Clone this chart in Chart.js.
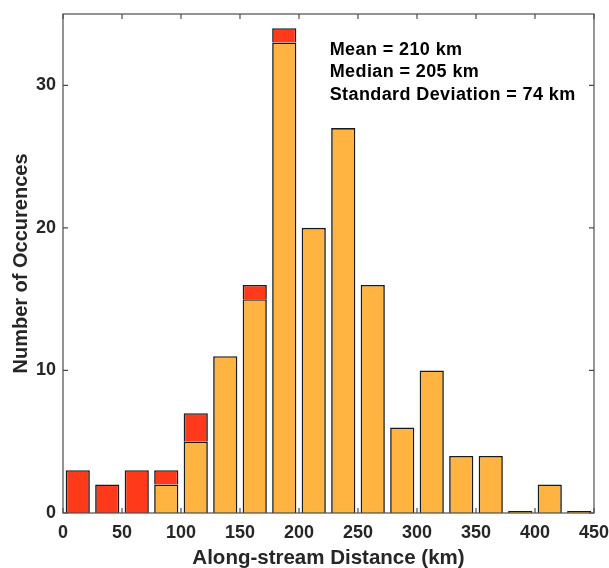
<!DOCTYPE html>
<html lang="en">
<head>
    <meta charset="UTF-8">
    <title>Along-stream Distance Histogram</title>
    <script src="https://cdn.jsdelivr.net/npm/chart.js"></script>
    <style>
        body { margin: 0; background: #fff; }
        #wrap { width: 609px; height: 568px; }
    </style>
</head>
<body>
    <div id="wrap"><canvas id="histChart" width="609" height="568"></canvas></div>
    <script>
        // bin centres (25 km bins)
        const binCentres = [12.5, 37.5, 62.5, 87.5, 112.5, 137.5, 162.5, 187.5, 212.5,
                            237.5, 262.5, 287.5, 312.5, 337.5, 362.5, 387.5, 412.5, 437.5];
        const orangeCounts = [null, null, null, 2, 5, 11, 15, 33, 20, 27, 16, 6, 10, 4, 4, 0, 2, 0];
        const redCounts    = [3, 2, 3, 1, 2, null, 1, 1, null, null, null, null, null, null, null, null, null, null];
        const xTicks = [0, 50, 100, 150, 200, 250, 300, 350, 400, 450];
        const yTicks = [0, 10, 20, 30];
        const statsText = ['Mean = 210 km', 'Median = 205 km', 'Standard Deviation = 74 km'];

        const FONT = '"Liberation Sans", Arial, sans-serif';
        const AXIS_COLOR = '#4d4d4d';

        const toPoints = arr => binCentres.map((x, i) => ({ x: x, y: arr[i] }));

        // box + inward tick marks + stats text
        const boxPlugin = {
            id: 'boxPlugin',
            afterDraw(chart) {
                const { ctx, chartArea: a, scales } = chart;
                ctx.save();
                ctx.strokeStyle = AXIS_COLOR;
                ctx.lineWidth = 1.2;
                ctx.strokeRect(a.left, a.top, a.right - a.left, a.bottom - a.top);
                ctx.beginPath();
                xTicks.forEach(v => {
                    const px = scales.x.getPixelForValue(v);
                    ctx.moveTo(px, a.bottom); ctx.lineTo(px, a.bottom - 5);
                    ctx.moveTo(px, a.top); ctx.lineTo(px, a.top + 5);
                });
                yTicks.forEach(v => {
                    const py = scales.y.getPixelForValue(v);
                    ctx.moveTo(a.left, py); ctx.lineTo(a.left + 5, py);
                    ctx.moveTo(a.right, py); ctx.lineTo(a.right - 5, py);
                });
                ctx.stroke();

                ctx.fillStyle = '#000';
                ctx.font = 'bold 18px ' + FONT;
                ctx.letterSpacing = '0.4px';
                ctx.textBaseline = 'middle';
                const tx = scales.x.getPixelForValue(226);
                statsText.forEach((t, i) => {
                    const ty = scales.y.getPixelForValue(32.5 - i * 1.58);
                    ctx.fillText(t, tx, ty);
                });
                ctx.restore();
            }
        };

        new Chart(document.getElementById('histChart'), {
            type: 'bar',
            data: {
                datasets: [{
                    label: 'orange',
                    data: toPoints(orangeCounts),
                    backgroundColor: '#ffb340',
                    borderColor: '#1a1a1a',
                    borderWidth: 1.6,
                    minBarLength: 2,
                    barPercentage: 0.82,
                    categoryPercentage: 1.0
                }, {
                    label: 'red',
                    data: toPoints(redCounts),
                    backgroundColor: '#ff3a1a',
                    borderColor: '#1a1a1a',
                    borderWidth: 1.6,
                    barPercentage: 0.82,
                    categoryPercentage: 1.0
                }]
            },
            options: {
                responsive: false,
                animation: false,
                layout: { padding: { top: 14, right: 15, left: 9, bottom: 0 } },
                plugins: {
                    legend: { display: false },
                    tooltip: { enabled: false }
                },
                scales: {
                    x: {
                        type: 'linear',
                        stacked: true,
                        min: 0,
                        max: 450,
                        offset: false,
                        grid: { display: false, drawTicks: false },
                        border: { display: false },
                        ticks: {
                            stepSize: 50,
                            padding: 9,
                            color: '#262626',
                            font: { family: FONT, size: 18, weight: 'bold' }
                        },
                        title: {
                            display: true,
                            text: 'Along-stream Distance (km)',
                            color: '#262626',
                            padding: { top: 0, bottom: -3 },
                            font: { family: FONT, size: 20.5, weight: 'bold' }
                        },
                        afterFit(scale) {
                            scale.height = 55;
                            scale.paddingLeft = 0;
                            scale.paddingRight = 0;
                        }
                    },
                    y: {
                        stacked: true,
                        min: 0,
                        max: 35,
                        grid: { display: false, drawTicks: false },
                        border: { display: false },
                        ticks: {
                            stepSize: 10,
                            padding: 7,
                            color: '#262626',
                            font: { family: FONT, size: 18, weight: 'bold' },
                            callback: v => (yTicks.includes(v) ? v : '')
                        },
                        title: {
                            display: true,
                            text: 'Number of Occurences',
                            color: '#262626',
                            padding: { top: 0, bottom: 4 },
                            font: { family: FONT, size: 20, weight: 'bold' }
                        },
                        afterFit(scale) {
                            scale.width = 54;
                            scale.paddingTop = 0;
                            scale.paddingBottom = 0;
                        }
                    }
                }
            },
            plugins: [boxPlugin]
        });
    </script>
</body>
</html>
